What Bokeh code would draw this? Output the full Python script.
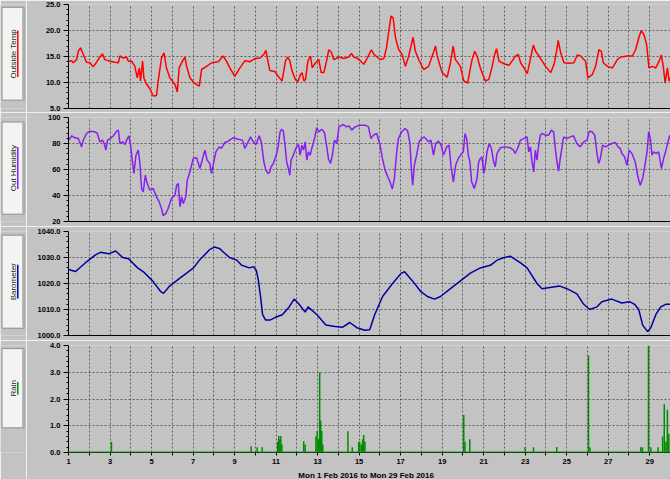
import math
from bokeh.plotting import figure
from bokeh.layouts import column, row
from bokeh.models import Range1d, FixedTicker, PrintfTickFormatter, Span, Title
from bokeh.embed import file_html
from bokeh.resources import INLINE
from bokeh.core.properties import value

# ---------------- data (day of February 2016, decimal) ----------------
temp_day = [
    1.00, 1.15, 1.23, 1.39, 1.47, 1.58, 1.68, 1.74, 1.87, 2.03,
    2.19, 2.35, 2.51, 2.64, 2.75, 3.00, 3.24, 3.40, 3.48, 3.64,
    3.80, 3.88, 4.04, 4.20, 4.31, 4.41, 4.47, 4.57, 4.63, 4.73,
    4.92, 5.08, 5.24, 5.32, 5.48, 5.60, 5.72, 5.88, 6.13, 6.24,
    6.33, 6.49, 6.61, 6.69, 6.85, 7.01, 7.17, 7.30, 7.41, 7.65,
    7.89, 8.21, 8.45, 8.61, 8.77, 9.01, 9.26, 9.50, 9.74, 9.98,
    10.22, 10.41, 10.51, 10.62, 10.70, 10.94, 11.10,
    11.29, 11.45, 11.56, 11.66, 11.77, 11.93, 12.05, 12.17, 12.25, 12.34,
    12.42, 12.53, 12.66, 12.74, 12.90, 13.06, 13.17, 13.30, 13.43, 13.54,
    13.65, 13.78, 14.02, 14.26, 14.50, 14.63, 14.74, 14.90, 15.06, 15.22,
    15.38, 15.59, 15.71, 15.87, 16.03, 16.19, 16.32, 16.43, 16.54, 16.64,
    16.75, 16.91, 17.07, 17.23, 17.39, 17.50, 17.60, 17.71, 17.87, 18.11,
    18.35, 18.60, 18.68, 18.76, 19.00, 19.24, 19.40, 19.53, 19.64, 19.88,
    20.04, 20.23, 20.33, 20.44, 20.57, 20.68, 20.84, 21.08, 21.25,
    21.41, 21.53, 21.62, 21.74, 21.98, 22.22, 22.38, 22.54, 22.67, 22.78,
    22.94, 23.10, 23.23, 23.39, 23.50, 23.66, 23.82, 23.98, 24.23, 24.39,
    24.51, 24.59, 24.71, 24.87, 25.11, 25.35, 25.51, 25.67, 25.91, 26.02,
    26.23, 26.39, 26.55, 26.67, 26.76, 26.96, 27.20, 27.44, 27.60, 27.92,
    28.16, 28.32, 28.48, 28.59, 28.72, 28.85, 28.96, 29.12, 29.29, 29.45,
    29.56, 29.66, 29.74, 29.85, 29.93, 30.00,
]
temp_val = [
    14.1, 14.2, 13.8, 14.4, 16.0, 16.7, 15.7, 15.1, 13.9, 13.8,
    13.0, 13.9, 14.9, 15.5, 14.4, 14.1, 13.9, 13.8, 15.1, 14.7,
    14.9, 14.1, 14.1, 13.1, 10.9, 12.8, 10.3, 14.1, 10.9, 9.9,
    8.8, 7.4, 7.5, 10.3, 14.7, 15.7, 12.8, 10.9, 9.6, 8.2,
    12.8, 14.1, 14.9, 13.1, 10.9, 10.1, 9.6, 9.3, 12.5, 13.1,
    13.8, 14.0, 15.1, 14.1, 12.8, 11.2, 12.8, 14.2, 14.0, 14.6,
    14.7, 15.4, 16.2, 13.8, 12.3, 12.1, 11.2,
    10.3, 14.1, 14.9, 14.2, 12.2, 10.6, 10.1, 11.5, 11.9, 10.3,
    10.6, 14.1, 15.1, 12.8, 13.8, 14.4, 11.9, 11.9, 14.1, 16.3,
    15.9, 14.4, 14.9, 14.6, 14.9, 15.6, 14.9, 14.7, 14.2, 13.5,
    14.6, 16.3, 15.4, 14.9, 14.4, 14.6, 16.7, 19.9, 22.8, 22.4,
    18.6, 16.3, 15.4, 13.1, 15.1, 17.0, 18.7, 16.0, 14.4, 12.5,
    13.1, 16.0, 17.0, 15.1, 11.9, 11.0, 13.8, 17.0, 14.4, 13.1,
    10.3, 9.9, 12.2, 14.4, 16.0, 15.1, 12.8, 10.3, 10.6,
    13.1, 15.4, 16.5, 14.1, 13.6, 13.3, 14.2, 15.1, 15.4, 13.8,
    12.8, 11.7, 14.1, 17.2, 16.0, 15.1, 14.1, 13.1, 11.9, 13.5,
    16.0, 18.1, 15.7, 13.8, 13.7, 13.8, 15.3, 15.1, 14.1, 10.9,
    11.5, 13.1, 16.3, 16.0, 13.8, 13.1, 12.8, 14.4, 14.9, 15.1,
    15.1, 16.3, 18.7, 20.0, 19.2, 17.3, 12.8, 13.1, 12.8, 14.1,
    15.3, 12.8, 9.9, 12.8, 10.3, 10.9,
]

hum_day = [
    1.00, 1.07, 1.15, 1.31, 1.47, 1.55, 1.63, 1.71, 1.87, 2.03,
    2.27, 2.39, 2.51, 2.64, 2.72, 2.80, 2.88, 3.00, 3.16, 3.32,
    3.40, 3.48, 3.61, 3.72, 3.80, 3.91, 3.99, 4.07, 4.15, 4.25,
    4.36, 4.44, 4.52, 4.60, 4.70, 4.79, 4.92, 5.08, 5.24, 5.37,
    5.48, 5.56, 5.69, 5.80, 5.96, 6.13, 6.21, 6.29, 6.37, 6.45,
    6.53, 6.65, 6.72, 6.85, 7.01, 7.17, 7.33, 7.46, 7.57, 7.68,
    7.81, 7.89, 8.00, 8.10, 8.26, 8.37, 8.53, 8.69, 8.93, 9.17,
    9.38, 9.50, 9.61, 9.77, 9.90, 10.03, 10.19, 10.30, 10.41, 10.51,
    10.62, 10.70,
    10.76, 10.87, 10.95, 11.03, 11.11, 11.19, 11.27, 11.35, 11.43, 11.51,
    11.59, 11.66, 11.72, 11.83, 11.95, 12.08, 12.16, 12.24, 12.32, 12.40,
    12.48, 12.56, 12.64, 12.72, 12.85, 12.96, 13.07, 13.20, 13.33, 13.44,
    13.52, 13.62, 13.71, 13.81, 13.92, 14.03, 14.24, 14.40, 14.52, 14.64,
    14.80, 15.04, 15.29, 15.45, 15.57, 15.69, 15.85, 16.01, 16.12, 16.25,
    16.38, 16.49, 16.60, 16.70, 16.81, 16.89, 17.05, 17.21, 17.34, 17.45,
    17.53, 17.58, 17.66, 17.77, 17.89, 18.01, 18.14, 18.34, 18.46, 18.58,
    18.69, 18.82, 18.95, 19.06, 19.22, 19.33, 19.43, 19.54, 19.65, 19.78,
    19.94, 20.02, 20.10, 20.18, 20.26, 20.34, 20.42, 20.55,
    20.68, 20.76, 20.84, 20.92, 21.00, 21.08, 21.16, 21.27, 21.37, 21.48,
    21.56, 21.64, 21.80, 22.04, 22.28, 22.44, 22.52, 22.65, 22.77, 22.93,
    23.09, 23.17, 23.25, 23.33, 23.41, 23.49, 23.57, 23.65, 23.73, 23.81,
    23.97, 24.13, 24.26, 24.37, 24.45, 24.53, 24.61, 24.69, 24.85, 25.01,
    25.17, 25.33, 25.49, 25.65, 25.82, 25.98, 26.09, 26.22, 26.35, 26.46,
    26.54, 26.62, 26.73, 26.86, 27.02, 27.18, 27.34, 27.47, 27.58, 27.66,
    27.79, 27.90, 28.01, 28.14, 28.30, 28.43, 28.54, 28.66, 28.78, 28.87,
    28.95, 29.03, 29.11, 29.19, 29.30, 29.43, 29.56, 29.67, 29.78, 29.88,
    29.97,
]
hum_val = [
    82.6, 83.8, 85.9, 84.4, 83.8, 80.8, 77.4, 82.6, 87.7, 89.5,
    89.0, 87.7, 81.3, 82.6, 80.0, 74.9, 82.6, 83.8, 85.9, 89.5,
    90.3, 80.0, 81.3, 79.2, 82.6, 85.9, 78.7, 67.2, 56.9, 71.0,
    74.9, 64.6, 45.4, 42.8, 55.6, 49.2, 44.1, 45.4, 39.0, 35.1,
    30.0, 24.4, 26.2, 30.0, 37.7, 40.3, 48.0, 49.2, 31.3, 39.0,
    33.8, 39.0, 51.8, 58.2, 68.5, 69.0, 60.8, 68.5, 74.9, 67.2,
    64.6, 56.9, 65.9, 73.6, 77.4, 76.2, 80.8, 81.8, 84.4, 83.3,
    82.6, 76.2, 80.0, 85.1, 81.3, 79.2, 85.9, 80.0, 65.9, 59.5,
    56.9, 58.2,
    62.1, 64.6, 68.5, 72.3, 78.7, 89.0, 91.0, 89.5, 78.7, 65.9,
    60.8, 55.6, 67.2, 71.0, 76.2, 79.2, 71.0, 78.7, 74.9, 81.3,
    67.2, 73.6, 71.0, 76.2, 83.8, 92.1, 89.0, 91.0, 88.5, 77.4,
    68.5, 64.6, 71.0, 82.6, 80.0, 92.8, 94.6, 92.8, 93.6, 90.3,
    92.8, 94.1, 94.1, 92.8, 83.8, 86.4, 87.7, 78.7, 68.5, 59.5,
    54.4, 50.5, 44.9, 53.1, 73.6, 83.8, 89.0, 91.5, 89.7, 80.0,
    56.9, 47.9, 63.3, 71.0, 81.3, 83.8, 85.1, 81.3, 82.6, 71.0,
    80.0, 81.8, 78.7, 71.0, 77.4, 78.7, 62.1, 50.5, 63.3, 68.5,
    72.3, 73.6, 87.7, 83.8, 71.0, 65.9, 50.5, 45.4,
    53.1, 65.9, 68.5, 69.7, 56.9, 63.3, 73.6, 80.0, 76.2, 65.9,
    62.1, 72.3, 76.7, 77.4, 76.7, 74.9, 72.3, 76.7, 82.6, 83.8,
    85.1, 73.6, 77.4, 65.9, 58.2, 74.9, 67.2, 78.7, 86.4, 87.7,
    86.4, 86.4, 90.3, 89.0, 76.2, 65.9, 58.7, 68.5, 85.1, 83.8,
    85.1, 85.9, 80.0, 77.4, 81.3, 82.6, 89.5, 89.0, 86.4, 72.3,
    64.6, 68.5, 78.7, 77.4, 78.7, 80.0, 80.8, 77.4, 76.2, 72.3,
    69.7, 63.3, 74.9, 72.3, 65.9, 54.4, 47.9, 53.1, 64.6, 73.6,
    89.0, 83.8, 71.0, 73.6, 72.3, 73.6, 60.8, 68.5, 74.9, 81.3,
    86.4,
]

baro_day = [
    1.00, 1.34, 1.82, 2.30, 2.54, 2.93, 3.27, 3.61, 3.89, 4.33,
    4.61, 5.05, 5.43, 5.58, 5.87, 6.35, 6.69, 7.02, 7.31, 7.55,
    7.79, 8.03, 8.27, 8.47, 8.76, 9.10, 9.34, 9.72, 9.91, 10.05,
    10.15, 10.25, 10.35, 10.49, 10.73, 10.97, 11.30, 11.63, 11.87, 12.11,
    12.40, 12.54, 12.97, 13.40, 13.84, 14.21, 14.55, 14.89, 15.27, 15.51,
    15.75, 16.13, 16.61, 17.04, 17.19, 17.57, 17.96, 18.29, 18.63, 18.92,
    19.40, 19.88, 20.36, 20.84, 21.32, 21.65, 21.99, 22.28, 22.57, 22.76,
    23.09, 23.33, 23.57, 23.81, 24.19, 24.67, 25.01, 25.49, 25.82, 26.11,
    26.45, 26.69, 27.17, 27.65, 28.03, 28.27, 28.47, 28.66, 28.90, 29.05,
    29.29, 29.53, 29.77, 30.00,
]
baro_val = [
    1025.4, 1024.6, 1028.0, 1031.0, 1032.0, 1031.4, 1032.5, 1030.0, 1029.5, 1026.0,
    1024.5, 1021.0, 1017.0, 1016.2, 1019.0, 1022.0, 1024.0, 1026.0, 1029.0, 1031.0,
    1033.0, 1034.0, 1033.5, 1032.0, 1030.0, 1029.0, 1027.0, 1026.0, 1026.5, 1025.0,
    1021.0, 1015.0, 1008.0, 1006.0, 1006.0, 1007.0, 1008.0, 1011.0, 1014.0, 1012.0,
    1009.0, 1011.0, 1008.0, 1004.0, 1003.5, 1003.2, 1005.0, 1003.0, 1002.0, 1002.2,
    1008.0, 1015.0, 1020.0, 1024.0, 1024.5, 1021.0, 1017.0, 1015.0, 1014.0, 1015.0,
    1018.0, 1021.0, 1024.0, 1026.0, 1027.0, 1029.0, 1030.0, 1030.5, 1029.0, 1028.0,
    1026.0, 1023.0, 1020.0, 1018.0, 1018.5, 1019.0, 1018.0, 1016.0, 1012.0, 1010.0,
    1011.0, 1013.0, 1014.0, 1012.5, 1013.0, 1012.0, 1010.0, 1004.0, 1001.5, 1003.0,
    1008.0, 1011.0, 1012.0, 1012.0,
]

rain_day = [
    3.07, 9.80, 10.09, 10.33, 11.08, 11.13, 11.18, 11.23, 11.28, 12.33,
    12.40, 12.92, 12.98, 13.05, 13.10, 13.15, 13.20, 13.25, 14.46, 14.67,
    14.98, 15.03, 15.10, 15.17, 15.22, 15.28, 20.04, 20.10, 20.33, 23.00,
    23.40, 24.52, 26.05, 26.12, 28.57, 28.65, 28.94, 29.05, 29.40, 29.62,
    29.70, 29.78, 29.85, 29.92,
]
rain_val = [
    0.40, 0.23, 0.20, 0.20, 0.40, 0.62, 0.50, 0.62, 0.30, 0.42,
    0.30, 0.60, 0.80, 0.50, 3.00, 1.20, 0.80, 0.30, 0.79, 0.20,
    0.40, 0.40, 0.30, 0.50, 0.65, 0.40, 1.40, 0.40, 0.50, 0.20,
    0.20, 0.21, 3.63, 0.20, 0.20, 0.20, 4.00, 0.20, 0.20, 0.60,
    1.80, 0.40, 1.60, 0.70,
]

day_ticks = list(range(1, 30))
x_title = "Mon 1 Feb 2016  to  Mon 29 Feb  2016"

panel_names = ["Outside Temp", "Out Humidity", "Barometer", "Rain"]
panel_colors = ["#ff0000", "#8a1ef0", "#0000a0", "#008c00"]
panel_ranges = [(5, 25), (20, 100), (1000, 1040), (0, 4)]
panel_ticks = [[5, 10, 15, 20, 25], [20, 40, 60, 80, 100],
               [1000, 1010, 1020, 1030, 1040], [0, 1, 2, 3, 4]]
panel_minor = [[6, 7, 8, 9, 11, 12, 13, 14, 16, 17, 18, 19, 21, 22, 23, 24],
               [24, 28, 32, 36, 44, 48, 52, 56, 64, 68, 72, 76, 84, 88, 92, 96],
               [1002, 1004, 1006, 1008, 1012, 1014, 1016, 1018, 1022, 1024, 1026, 1028,
                1032, 1034, 1036, 1038],
               [0.2, 0.4, 0.6, 0.8, 1.2, 1.4, 1.6, 1.8, 2.2, 2.4, 2.6, 2.8, 3.2, 3.4, 3.6, 3.8]]
panel_fmt = ["%.1f", "%d", "%.1f", "%.1f"]

# ---------------- layout / style ----------------
BG = "#c3c3c3"
GRID = "#5e5e5e"
FONT = "Liberation Sans"
BTN_W = 26
PLOT_W = 644

row_h = [112, 114, 114, 139]
row_top = [4, 5, 5, 5]
row_bottom = [4, 5, 5, 25]
btn_span = [(3, 103), (5, 106), (4, 106), (4, 107)]
ul_len = [50, 46, 37, 16]

series = [(temp_day, temp_val), (hum_day, hum_val), (baro_day, baro_val), (rain_day, rain_val)]

rows = []
for i in range(4):
    H = row_h[i]
    # ---- button with vertical label ----
    b = figure(width=BTN_W, height=H, x_range=Range1d(0, BTN_W), y_range=Range1d(0, H),
               output_backend="svg", toolbar_location=None,
               min_border=0, min_border_left=0, min_border_right=0,
               min_border_top=0, min_border_bottom=0,
               background_fill_color=BG, border_fill_color=BG)
    b.outline_line_color = None
    b.axis.visible = False
    b.grid.visible = False
    t0, t1 = btn_span[i]
    b.quad(left=[1.5], right=[23.5], top=[H - t0], bottom=[H - t1],
           fill_color="#f3f3f1", line_color="#8e8e8e", line_width=1)
    b.segment(x0=[22.5], y0=[H - t0 - 1], x1=[22.5], y1=[H - t1 + 1],
              line_color="#a8a8a8", line_width=1.5)
    cy = H - (t0 + t1) / 2.0
    b.text(x=[12.6], y=[cy], text=[panel_names[i]], angle=math.pi / 2,
           text_font=value(FONT), text_font_size=value("8px"),
           text_color="#1e1e1e", text_align="center", text_baseline="middle")
    b.segment(x0=[17.3], y0=[cy - ul_len[i] / 2.0], x1=[17.3], y1=[cy + ul_len[i] / 2.0],
              line_color=panel_colors[i], line_width=1.5)

    # ---- data panel ----
    p = figure(width=PLOT_W, height=H, x_range=Range1d(1, 30), y_range=Range1d(*panel_ranges[i]),
               output_backend="svg", toolbar_location=None,
               min_border_left=42, min_border_right=0,
               min_border_top=row_top[i], min_border_bottom=row_bottom[i],
               background_fill_color=BG, border_fill_color=BG)
    p.outline_line_color = None

    xt = FixedTicker(ticks=day_ticks)
    yt = FixedTicker(ticks=panel_ticks[i], minor_ticks=panel_minor[i])

    p.xgrid.ticker = xt
    p.ygrid.ticker = FixedTicker(ticks=panel_ticks[i])
    for g in (p.xgrid[0], p.ygrid[0]):
        g.grid_line_color = GRID
        g.grid_line_dash = "2 2"
        g.grid_line_width = 1

    ya = p.yaxis[0]
    ya.ticker = yt
    ya.formatter = PrintfTickFormatter(format=panel_fmt[i])
    ya.axis_line_color = "#000000"
    ya.major_tick_line_color = "#000000"
    ya.minor_tick_line_color = "#000000"
    ya.major_tick_out = 5
    ya.major_tick_in = 0
    ya.minor_tick_out = 2
    ya.minor_tick_in = 0
    ya.major_label_standoff = 3
    ya.major_label_text_font = FONT
    ya.major_label_text_font_style = "bold"
    ya.major_label_text_font_size = "7.5px"
    ya.major_label_text_color = "#000000"

    xa = p.xaxis[0]
    xa.axis_line_color = "#000000"
    xa.minor_tick_line_color = None
    if i < 3:
        xa.ticker = FixedTicker(ticks=[])
        xa.major_tick_out = 0
        xa.major_tick_in = 0
        xa.major_label_standoff = 0
    else:
        xa.ticker = xt
        xa.major_tick_out = 3
        xa.major_tick_in = 0
        xa.major_tick_line_color = "#000000"
        xa.major_label_standoff = 1
        xa.major_label_text_font = FONT
        xa.major_label_text_font_style = "bold"
        xa.major_label_text_font_size = "7.5px"
        xa.major_label_text_color = "#000000"
        xa.major_label_overrides = {d: (str(d) if d % 2 == 1 else " ") for d in day_ticks}
        p.add_layout(Title(text=x_title, align="center", standoff=0, offset=0,
                           text_font=FONT, text_font_style="bold",
                           text_font_size="8px", text_color="#000000"), "below")

    xs, ys = series[i]
    if i < 3:
        p.line(xs, ys, line_color=panel_colors[i], line_width=1.5)
    else:
        p.segment(x0=xs, y0=[0] * len(xs), x1=xs, y1=ys,
                  line_color=panel_colors[i], line_width=1.5)
        p.add_layout(Span(location=0, dimension="width",
                          line_color="#1f9a1f", line_width=2))

    rows.append(row(b, p))

layout = column(*rows)

open("out.html", "w").write(file_html(layout, INLINE))
